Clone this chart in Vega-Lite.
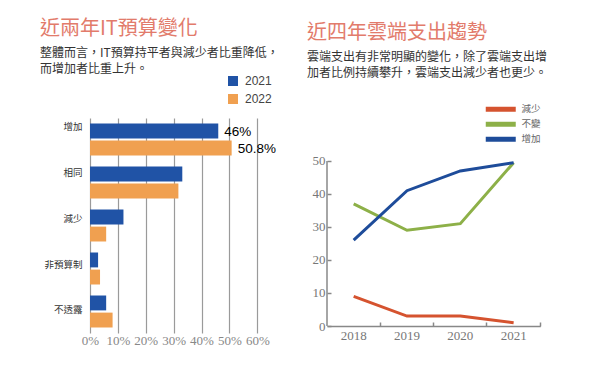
{
  "$schema": "https://vega.github.io/schema/vega-lite/v6.json",
  "background": "white",
  "padding": {"left": 40, "top": 19, "right": 5, "bottom": 5},
  "spacing": 28,
  "config": {"view": {"stroke": null}},
  "resolve": {"scale": {"color": "independent"}, "legend": {"color": "independent"}},
  "hconcat": [
    {
      "width": 167.3,
      "height": 215,
      "title": {
        "text": "近兩年IT預算變化",
        "subtitle": ["整體而言，IT預算持平者與減少者比重降低，", "而增加者比重上升。"],
        "anchor": "start", "frame": "group", "dx": -50, "offset": 0,
        "font": "Noto Sans CJK TC", "fontSize": 20, "fontWeight": "normal", "color": "#E27B6B",
        "subtitleFont": "Noto Sans CJK TC", "subtitleFontSize": 12, "subtitleColor": "#333333",
        "subtitleLineHeight": 16, "subtitlePadding": 9
      },
      "data": {"values": [
        {"cat": "增加", "year": "2021", "value": 0.46, "label": "46%"},
        {"cat": "增加", "year": "2022", "value": 0.508, "label": "50.8%"},
        {"cat": "相同", "year": "2021", "value": 0.331, "label": ""},
        {"cat": "相同", "year": "2022", "value": 0.317, "label": ""},
        {"cat": "減少", "year": "2021", "value": 0.12, "label": ""},
        {"cat": "減少", "year": "2022", "value": 0.058, "label": ""},
        {"cat": "非預算制", "year": "2021", "value": 0.029, "label": ""},
        {"cat": "非預算制", "year": "2022", "value": 0.036, "label": ""},
        {"cat": "不透露", "year": "2021", "value": 0.058, "label": ""},
        {"cat": "不透露", "year": "2022", "value": 0.081, "label": ""}
      ]},
      "encoding": {
        "y": {
          "field": "cat", "type": "nominal",
          "sort": ["增加", "相同", "減少", "非預算制", "不透露"],
          "scale": {"paddingInner": 0.256, "paddingOuter": 0.128},
          "axis": {
            "title": null, "ticks": false, "domain": false,
            "labelFont": "Noto Sans CJK TC", "labelFontSize": 9.5, "labelColor": "#333333", "labelPadding": 8,
            "labelOffset": {
              "condition": [
                {"test": "datum.value === '增加'", "value": -12.5},
                {"test": "datum.value === '相同'", "value": -9.5},
                {"test": "datum.value === '減少'", "value": -6.5},
                {"test": "datum.value === '非預算制'", "value": -3.5}
              ],
              "value": -1.5
            }
          }
        },
        "yOffset": {"field": "year", "type": "nominal", "scale": {"paddingInner": 0.13, "paddingOuter": 0}},
        "x": {
          "field": "value", "type": "quantitative",
          "scale": {"domain": [0, 0.6], "nice": false},
          "axis": {
            "title": null, "format": ".0%", "values": [0, 0.1, 0.2, 0.3, 0.4, 0.5, 0.6],
            "grid": true, "gridColor": "#9a9a9a", "gridWidth": 1.2, "ticks": false, "domain": false,
            "labelFlush": false, "labelOverlap": false,
            "labelFont": "Liberation Serif", "labelFontSize": 13, "labelColor": "#888888", "labelPadding": 1
          }
        }
      },
      "layer": [
        {
          "mark": {"type": "bar"},
          "encoding": {
            "color": {
              "field": "year", "type": "nominal",
              "scale": {"domain": ["2021", "2022"], "range": ["#2053A6", "#F0A050"]},
              "legend": {
                "title": null, "orient": "none", "legendX": 137, "legendY": -43, "padding": 0,
                "symbolType": "square", "symbolSize": 100, "symbolStrokeWidth": 0,
                "labelFont": "Liberation Sans", "labelFontSize": 12, "labelColor": "#444444",
                "labelOffset": 6, "rowPadding": 6
              }
            }
          }
        },
        {
          "mark": {"type": "text", "align": "left", "baseline": "middle", "dx": 6, "dy": 1, "font": "Liberation Sans", "fontSize": 13.5, "color": "#000000"},
          "encoding": {"text": {"field": "label"}}
        }
      ]
    },
    {
      "width": 213.3,
      "height": 208,
      "title": {
        "text": "近四年雲端支出趨勢",
        "subtitle": ["雲端支出有非常明顯的變化，除了雲端支出增", "加者比例持續攀升，雲端支出減少者也更少。"],
        "anchor": "start", "frame": "group", "dx": -20, "offset": 25.5,
        "font": "Noto Sans CJK TC", "fontSize": 20, "fontWeight": "normal", "color": "#E27B6B",
        "subtitleFont": "Noto Sans CJK TC", "subtitleFontSize": 12, "subtitleColor": "#333333",
        "subtitleLineHeight": 16, "subtitlePadding": 9
      },
      "data": {"values": [
        {"year": "2018", "series": "減少", "value": 9},
        {"year": "2019", "series": "減少", "value": 3},
        {"year": "2020", "series": "減少", "value": 3},
        {"year": "2021", "series": "減少", "value": 1},
        {"year": "2018", "series": "不變", "value": 37},
        {"year": "2019", "series": "不變", "value": 29},
        {"year": "2020", "series": "不變", "value": 31},
        {"year": "2021", "series": "不變", "value": 49.5},
        {"year": "2018", "series": "增加", "value": 26},
        {"year": "2019", "series": "增加", "value": 41},
        {"year": "2020", "series": "增加", "value": 47},
        {"year": "2021", "series": "增加", "value": 49.5}
      ]},
      "layer": [
        {
          "data": {"values": [{"year": "2018", "lo": 0, "hi": 50}]},
          "mark": {"type": "rule", "color": "#888888", "strokeWidth": 1.5},
          "encoding": {
            "x": {"field": "year", "type": "ordinal", "bandPosition": 0},
            "y": {"field": "lo", "type": "quantitative"},
            "y2": {"field": "hi"}
          }
        },
        {
          "mark": {"type": "line", "strokeWidth": 3},
          "encoding": {
            "x": {"field": "year", "type": "ordinal"},
            "y": {"field": "value", "type": "quantitative"},
            "color": {
              "field": "series", "type": "nominal",
              "scale": {"domain": ["減少", "不變", "增加"], "range": ["#D5532F", "#8DB048", "#1E4C9A"]},
              "legend": {
                "title": null, "orient": "none", "legendX": 169, "legendY": -13.5, "padding": 0,
                "symbolType": "M-15,0H15", "symbolSize": 4, "symbolStrokeWidth": 5,
                "labelFont": "Noto Sans CJK TC", "labelFontSize": 9.5, "labelColor": "#666666",
                "labelOffset": 16, "rowPadding": -7
              }
            }
          }
        }
      ],
      "encoding": {
        "x": {
          "field": "year", "type": "ordinal",
          "scale": {"type": "band", "paddingInner": 0, "paddingOuter": 0},
          "axis": {
            "title": null, "labelAngle": 0, "bandPosition": 1,
            "domainColor": "#888888", "domainWidth": 1.5, "tickColor": "#888888", "tickWidth": 1.5, "tickSize": -4,
            "labelFont": "Liberation Serif", "labelFontSize": 13, "labelColor": "#777777", "labelPadding": 7
          }
        },
        "y": {
          "field": "value", "type": "quantitative",
          "scale": {"domain": [0, 63.03], "nice": false},
          "axis": {
            "title": null, "values": [0, 10, 20, 30, 40, 50], "grid": false, "domain": false,
            "tickColor": "#888888", "tickWidth": 1.5, "tickSize": -4,
            "labelFont": "Liberation Serif", "labelFontSize": 13, "labelColor": "#777777", "labelPadding": 6
          }
        }
      }
    }
  ]
}
